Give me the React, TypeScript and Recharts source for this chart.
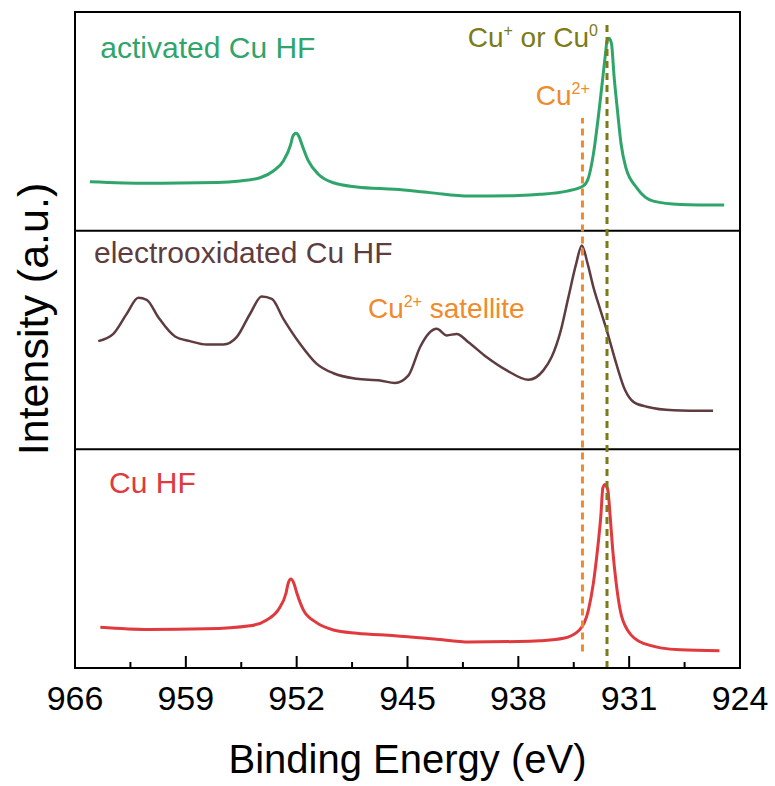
import React from 'react';
import {
  LineChart, Line, XAxis, YAxis, ReferenceLine, ReferenceArea, ReferenceDot,
} from 'recharts';

// Cu 2p spectra, binding energy (eV) vs intensity (a.u., 0-100 inside each panel)
const activatedEnergy = [
  965.06, 961.4, 957.0, 955.58, 954.31, 953.47, 952.84, 952.37, 952.25, 952.04,
  951.83, 951.68, 951.26, 950.63, 949.68, 948.2, 945.8, 943.6, 941.1, 938.0,
  936.63, 934.92, 933.91, 933.57, 933.26, 932.9, 932.66, 932.47, 932.41, 932.27,
  932.12, 931.95, 931.74, 931.51, 931.21, 930.52, 929.47, 927.78, 925.0,
];
const activatedIntensity = [
  22.4, 21.7, 22.0, 22.7, 24.2, 27.3, 31.9, 39.6, 43.0, 44.5,
  42.7, 39.6, 31.9, 25.8, 21.9, 20.0, 18.9, 17.4, 15.8, 16.1,
  16.6, 18.1, 20.4, 24.2, 35.0, 55.0, 70.3, 82.6, 86.5, 88.0,
  85.7, 70.3, 55.0, 39.6, 28.8, 19.6, 13.5, 12.0, 11.7,
];

const oxidizedEnergy = [
  964.53, 963.58, 962.73, 962.0, 961.47, 960.74, 959.68, 958.74, 957.68, 956.63,
  955.79, 954.94, 954.21, 953.57, 952.84, 951.79, 950.73, 949.68, 948.2, 946.73,
  945.79, 944.94, 944.21, 943.68, 943.15, 942.52, 941.89, 941.15, 939.99, 938.73,
  937.36, 936.42, 935.89, 935.32, 934.84, 934.35, 933.99, 933.62, 933.26, 932.88,
  932.41, 931.82, 931.26, 930.73, 929.89, 928.2, 925.7,
];
const oxidizedIntensity = [
  49.5, 52.8, 62.0, 69.3, 68.4, 60.4, 51.6, 49.5, 47.9, 47.9,
  51.3, 62.0, 69.9, 68.8, 59.7, 48.3, 39.1, 34.8, 32.3, 31.5,
  30.3, 33.8, 46.7, 52.8, 55.1, 52.1, 52.8, 49.0, 42.1, 36.1,
  31.8, 36.1, 42.3, 54.3, 69.5, 84.8, 93.2, 84.8, 74.2, 65.1,
  54.3, 39.3, 27.1, 21.7, 19.5, 17.9, 17.6,
];

const pristineEnergy = [
  964.4, 961.4, 957.7, 954.95, 953.89, 953.16, 952.67, 952.53, 952.36, 952.17,
  951.99, 951.58, 950.84, 949.68, 948.2, 945.8, 943.3, 941.1, 938.0, 936.63,
  935.15, 934.14, 933.57, 933.26, 933.0, 932.79, 932.66, 932.52, 932.35, 932.2,
  932.04, 931.82, 931.57, 931.11, 930.1, 927.78, 925.3,
];
const pristineIntensity = [
  18.6, 17.6, 17.9, 19.3, 22.0, 26.6, 34.3, 38.9, 40.7, 38.6,
  34.3, 26.6, 21.2, 17.4, 15.9, 14.8, 13.3, 11.9, 12.1, 12.5,
  13.6, 17.4, 26.6, 38.8, 54.1, 69.4, 82.4, 83.9, 81.5, 69.4,
  54.1, 38.8, 26.6, 17.4, 11.3, 8.3, 7.9,
];

const majorTicks = [966, 959, 952, 945, 938, 931, 924];
const minorTicks = [962.5, 955.5, 948.5, 941.5, 934.5, 927.5];

// panel stacking: bottom = Cu HF, middle = electrooxidated, top = activated
const PANEL = 100;
const cu2Energy = 933.95;
const cu1Energy = 932.4;

const GREEN = '#2fa56b';
const BROWN = '#5e3c40';
const RED = '#e0393e';
const ORANGE = '#f08a2a';
const OLIVE = '#7b7b18';
const FONT = '"Liberation Sans", Arial, sans-serif';

const toSeries = (energy: number[], intensity: number[], panel: number) =>
  energy.map((e, i) => ({ e, v: panel * PANEL + intensity[i] }));

const activatedData = toSeries(activatedEnergy, activatedIntensity, 2);
const oxidizedData = toSeries(oxidizedEnergy, oxidizedIntensity, 1);
const pristineData = toSeries(pristineEnergy, pristineIntensity, 0);

function EnergyTick(props: any) {
  const { x, y, payload } = props;
  const major = majorTicks.includes(payload.value);
  return (
    <g>
      <line x1={x} x2={x} y1={y} y2={y - (major ? 12 : 6)} stroke="#000" strokeWidth={2} />
      {major && (
        <text x={x} y={y + 42} textAnchor="middle" fontSize={34} fontFamily={FONT} fill="#000">
          {payload.value}
        </text>
      )}
    </g>
  );
}

type Piece = { t: string; sup?: boolean };

function textLabel(pieces: Piece[], color: string, size: number) {
  return (props: any) => (
    <text x={props.cx} y={props.cy} fontSize={size} fontFamily={FONT} fill={color}>
      {pieces.map((p, i) => (
        <tspan
          key={i}
          fontSize={p.sup ? 16 : size}
          dy={p.sup ? -11 : i > 0 && pieces[i - 1].sup ? 11 : 0}
        >
          {p.t}
        </tspan>
      ))}
    </text>
  );
}

export default function App() {
  return (
    <div style={{ position: 'absolute', left: 0, top: 0, background: '#fff' }}>
      <LineChart width={775} height={786} margin={{ top: 12, right: 35, bottom: 0, left: 0 }}>
        <XAxis
          type="number"
          dataKey="e"
          domain={[924, 966]}
          reversed
          allowDataOverflow
          ticks={[...majorTicks, ...minorTicks].sort((a, b) => b - a)}
          interval={0}
          tickLine={false}
          tickSize={0}
          tickMargin={0}
          tick={<EnergyTick />}
          axisLine={{ stroke: '#000', strokeWidth: 2 }}
          height={118}
          label={{
            content: (p: any) => (
              <text
                x={p.viewBox.x + p.viewBox.width / 2}
                y={p.viewBox.y + 105}
                textAnchor="middle"
                fontSize={40}
                fontFamily={FONT}
                fill="#000"
              >
                Binding Energy (eV)
              </text>
            ),
          }}
        />
        <YAxis
          type="number"
          domain={[0, 3 * PANEL]}
          allowDataOverflow
          tick={false}
          tickLine={false}
          axisLine={false}
          width={75}
          label={{
            content: (p: any) => {
              const cx = p.viewBox.x + 48;
              const cy = p.viewBox.y + p.viewBox.height / 2 - 21;
              return (
                <text
                  x={cx}
                  y={cy}
                  transform={`rotate(-90, ${cx}, ${cy})`}
                  textAnchor="middle"
                  fontSize={43}
                  fontFamily={FONT}
                  fill="#000"
                >
                  Intensity (a.u.)
                </text>
              );
            },
          }}
        />

        <ReferenceArea x1={966} x2={924} y1={0} y2={3 * PANEL} fill="none" stroke="#000" strokeWidth={2} />
        <ReferenceLine y={PANEL} stroke="#000" strokeWidth={2} />
        <ReferenceLine y={2 * PANEL} stroke="#000" strokeWidth={2} />

        <Line data={activatedData} dataKey="v" type="monotone" stroke={GREEN} strokeWidth={3} dot={false} isAnimationActive={false} />
        <Line data={oxidizedData} dataKey="v" type="monotone" stroke={BROWN} strokeWidth={2.5} dot={false} isAnimationActive={false} />
        <Line data={pristineData} dataKey="v" type="monotone" stroke={RED} strokeWidth={3} dot={false} isAnimationActive={false} />

        <ReferenceLine
          segment={[{ x: cu2Energy, y: 7.5 }, { x: cu2Energy, y: 251.5 }]}
          stroke={ORANGE}
          strokeWidth={3}
          strokeDasharray="7 5"
        />
        <ReferenceLine
          segment={[{ x: cu1Energy, y: 0 }, { x: cu1Energy, y: 295.5 }]}
          stroke={OLIVE}
          strokeWidth={3}
          strokeDasharray="7 5"
        />

        <ReferenceDot x={964.4} y={279} r={0} shape={textLabel([{ t: 'activated Cu HF' }], GREEN, 30)} />
        <ReferenceDot
          x={941.2}
          y={284}
          r={0}
          shape={textLabel([{ t: 'Cu' }, { t: '+', sup: true }, { t: ' or Cu' }, { t: '0', sup: true }], OLIVE, 28)}
        />
        <ReferenceDot x={936.9} y={257.5} r={0} shape={textLabel([{ t: 'Cu' }, { t: '2+', sup: true }], ORANGE, 28)} />
        <ReferenceDot x={964.8} y={185} r={0} shape={textLabel([{ t: 'electrooxidated Cu HF' }], BROWN, 30)} />
        <ReferenceDot
          x={947.5}
          y={160}
          r={0}
          shape={textLabel([{ t: 'Cu' }, { t: '2+', sup: true }, { t: ' satellite' }], ORANGE, 28)}
        />
        <ReferenceDot x={963.85} y={80} r={0} shape={textLabel([{ t: 'Cu HF' }], RED, 30)} />
      </LineChart>
    </div>
  );
}
